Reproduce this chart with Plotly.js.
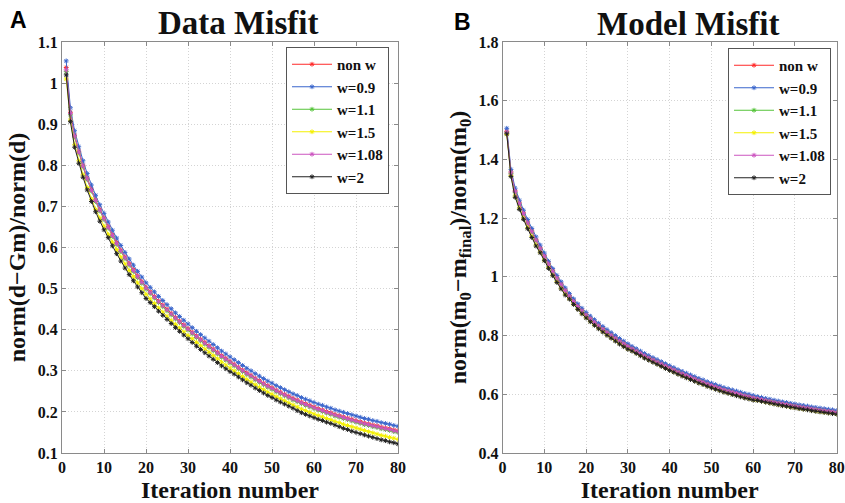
<!DOCTYPE html>
<html>
<head>
<meta charset="utf-8">
<script src="https://cdn.plot.ly/plotly-3.0.1.min.js"></script>
<style>html,body{margin:0;padding:0;background:#fff;}#chart{width:845px;height:503px;}</style>
</head>
<body>
<div id="chart"></div>
<script>
// ---------- data ----------
const iterations = Array.from({length: 80}, (_, i) => i + 1);
const seriesNames = ['non w', 'w=0.9', 'w=1.1', 'w=1.5', 'w=1.08', 'w=2'];
const seriesColors = ['#ff2a2a', '#3a66cc', '#55c43a', '#f4f000', '#cc55c0', '#222222'];

// Panel A: Data Misfit
const dataNonW = [1.038,0.929,0.873,0.834,0.800,0.769,0.741,0.716,0.693,0.672,
0.651,0.631,0.612,0.594,0.577,0.561,0.546,0.531,0.517,0.503,
0.492,0.481,0.470,0.460,0.450,0.440,0.430,0.421,0.412,0.403,
0.394,0.385,0.377,0.369,0.361,0.353,0.345,0.337,0.330,0.323,
0.316,0.309,0.302,0.295,0.289,0.282,0.276,0.270,0.264,0.259,
0.253,0.248,0.243,0.238,0.233,0.229,0.224,0.220,0.216,0.212,
0.208,0.205,0.201,0.198,0.194,0.191,0.188,0.185,0.182,0.179,
0.176,0.173,0.171,0.168,0.166,0.163,0.161,0.159,0.156,0.154];
const dataW09 = [1.054,0.940,0.884,0.845,0.811,0.780,0.752,0.727,0.704,0.683,
0.662,0.642,0.623,0.605,0.588,0.572,0.557,0.542,0.528,0.514,
0.503,0.492,0.481,0.471,0.461,0.451,0.441,0.432,0.423,0.414,
0.405,0.396,0.388,0.380,0.372,0.364,0.356,0.348,0.341,0.334,
0.327,0.320,0.313,0.306,0.300,0.293,0.287,0.281,0.275,0.270,
0.264,0.259,0.254,0.249,0.244,0.240,0.235,0.231,0.227,0.223,
0.219,0.216,0.212,0.209,0.205,0.202,0.199,0.196,0.193,0.190,
0.187,0.184,0.182,0.179,0.177,0.174,0.172,0.170,0.167,0.165];
const dataW11 = [1.028,0.923,0.869,0.830,0.796,0.765,0.737,0.712,0.689,0.668,
0.647,0.627,0.608,0.590,0.573,0.557,0.542,0.527,0.513,0.499,
0.488,0.477,0.466,0.456,0.446,0.436,0.426,0.417,0.408,0.399,
0.390,0.381,0.373,0.365,0.357,0.349,0.341,0.333,0.326,0.319,
0.312,0.305,0.298,0.291,0.285,0.278,0.272,0.266,0.260,0.255,
0.249,0.244,0.239,0.234,0.229,0.225,0.220,0.216,0.212,0.208,
0.204,0.201,0.197,0.194,0.190,0.187,0.184,0.181,0.178,0.175,
0.172,0.169,0.167,0.164,0.162,0.159,0.157,0.155,0.152,0.150];
const dataW15 = [1.010,0.910,0.850,0.811,0.777,0.746,0.718,0.693,0.672,0.652,
0.632,0.613,0.595,0.577,0.560,0.544,0.529,0.514,0.500,0.486,
0.475,0.464,0.453,0.443,0.433,0.423,0.413,0.404,0.395,0.386,
0.378,0.369,0.361,0.353,0.345,0.337,0.329,0.321,0.314,0.307,
0.300,0.293,0.286,0.279,0.273,0.266,0.260,0.254,0.248,0.243,
0.237,0.232,0.227,0.222,0.217,0.212,0.207,0.203,0.199,0.195,
0.191,0.188,0.184,0.181,0.177,0.174,0.170,0.167,0.164,0.161,
0.158,0.155,0.152,0.149,0.146,0.143,0.141,0.138,0.136,0.133];
const dataW108 = [1.032,0.926,0.871,0.832,0.798,0.767,0.739,0.714,0.691,0.670,
0.649,0.629,0.610,0.592,0.575,0.559,0.544,0.529,0.515,0.501,
0.490,0.479,0.468,0.458,0.448,0.438,0.428,0.419,0.410,0.401,
0.392,0.383,0.375,0.367,0.359,0.351,0.343,0.335,0.328,0.321,
0.314,0.307,0.300,0.293,0.287,0.280,0.274,0.268,0.262,0.257,
0.251,0.246,0.241,0.236,0.231,0.227,0.222,0.218,0.214,0.210,
0.206,0.203,0.199,0.196,0.192,0.189,0.186,0.183,0.180,0.177,
0.174,0.171,0.169,0.166,0.164,0.161,0.159,0.157,0.154,0.152];
const dataW2 = [1.020,0.906,0.844,0.805,0.771,0.740,0.712,0.687,0.664,0.643,
0.624,0.604,0.585,0.567,0.550,0.534,0.519,0.504,0.490,0.476,
0.466,0.456,0.445,0.435,0.425,0.415,0.405,0.396,0.387,0.378,
0.369,0.360,0.352,0.344,0.336,0.328,0.320,0.312,0.305,0.298,
0.292,0.285,0.278,0.271,0.265,0.258,0.252,0.246,0.240,0.235,
0.229,0.224,0.219,0.214,0.209,0.203,0.198,0.194,0.190,0.186,
0.182,0.179,0.175,0.172,0.168,0.164,0.160,0.157,0.153,0.150,
0.147,0.144,0.141,0.138,0.135,0.132,0.130,0.127,0.125,0.122];

// Panel B: Model Misfit
const modelNonW = [1.495,1.357,1.293,1.252,1.218,1.186,1.156,1.127,1.099,1.072,
1.046,1.021,0.998,0.976,0.955,0.936,0.918,0.901,0.886,0.872,
0.859,0.847,0.835,0.824,0.813,0.803,0.793,0.783,0.774,0.765,
0.757,0.749,0.741,0.733,0.726,0.719,0.712,0.705,0.698,0.691,
0.685,0.678,0.672,0.666,0.660,0.654,0.648,0.643,0.637,0.632,
0.627,0.622,0.617,0.613,0.609,0.605,0.601,0.597,0.594,0.590,
0.587,0.584,0.581,0.578,0.575,0.572,0.569,0.567,0.564,0.562,
0.559,0.557,0.555,0.552,0.550,0.548,0.546,0.544,0.542,0.540];
const modelW09 = [1.506,1.366,1.302,1.261,1.227,1.195,1.165,1.136,1.108,1.081,
1.053,1.028,1.005,0.983,0.962,0.943,0.925,0.908,0.893,0.879,
0.866,0.854,0.842,0.831,0.820,0.810,0.800,0.790,0.781,0.772,
0.763,0.755,0.747,0.739,0.732,0.725,0.718,0.711,0.704,0.697,
0.691,0.684,0.678,0.672,0.666,0.660,0.654,0.649,0.643,0.638,
0.633,0.628,0.623,0.619,0.615,0.611,0.607,0.603,0.600,0.596,
0.592,0.589,0.586,0.583,0.580,0.577,0.574,0.572,0.569,0.567,
0.564,0.562,0.560,0.557,0.555,0.553,0.551,0.549,0.547,0.545];
const modelW11 = [1.490,1.352,1.288,1.248,1.214,1.182,1.152,1.123,1.095,1.068,
1.042,1.017,0.994,0.972,0.951,0.932,0.914,0.897,0.882,0.868,
0.856,0.844,0.832,0.821,0.810,0.800,0.790,0.780,0.771,0.762,
0.754,0.746,0.738,0.730,0.723,0.716,0.709,0.702,0.695,0.688,
0.682,0.675,0.669,0.663,0.657,0.651,0.645,0.640,0.634,0.629,
0.624,0.619,0.614,0.610,0.606,0.602,0.598,0.594,0.591,0.587,
0.584,0.581,0.578,0.575,0.572,0.569,0.566,0.564,0.561,0.559,
0.556,0.554,0.552,0.549,0.547,0.545,0.543,0.541,0.539,0.537];
const modelW15 = [1.485,1.345,1.275,1.234,1.200,1.168,1.138,1.109,1.085,1.058,
1.032,1.007,0.984,0.962,0.941,0.926,0.908,0.891,0.876,0.862,
0.849,0.837,0.825,0.814,0.803,0.793,0.783,0.773,0.764,0.755,
0.749,0.741,0.733,0.725,0.718,0.711,0.704,0.697,0.690,0.683,
0.677,0.670,0.664,0.658,0.652,0.646,0.640,0.635,0.629,0.624,
0.619,0.614,0.609,0.605,0.601,0.597,0.593,0.589,0.586,0.582,
0.580,0.577,0.574,0.571,0.568,0.565,0.562,0.560,0.557,0.555,
0.552,0.550,0.548,0.545,0.543,0.541,0.539,0.537,0.535,0.533];
const modelW108 = [1.493,1.354,1.291,1.250,1.216,1.184,1.154,1.125,1.097,1.070,
1.044,1.019,0.996,0.974,0.953,0.934,0.916,0.899,0.884,0.870,
0.857,0.845,0.833,0.822,0.811,0.801,0.791,0.781,0.772,0.763,
0.755,0.747,0.739,0.731,0.724,0.717,0.710,0.703,0.696,0.689,
0.683,0.676,0.670,0.664,0.658,0.652,0.646,0.641,0.635,0.630,
0.625,0.620,0.615,0.611,0.607,0.603,0.599,0.595,0.592,0.588,
0.585,0.582,0.579,0.576,0.573,0.570,0.567,0.565,0.562,0.560,
0.557,0.555,0.553,0.550,0.548,0.546,0.544,0.542,0.540,0.538];
const modelW2 = [1.487,1.342,1.271,1.230,1.196,1.164,1.134,1.105,1.082,1.055,
1.029,1.004,0.981,0.959,0.938,0.924,0.906,0.889,0.874,0.860,
0.847,0.835,0.823,0.812,0.801,0.791,0.781,0.771,0.762,0.753,
0.747,0.739,0.731,0.723,0.716,0.709,0.702,0.695,0.688,0.681,
0.675,0.668,0.662,0.656,0.650,0.644,0.638,0.633,0.627,0.622,
0.617,0.612,0.607,0.603,0.599,0.595,0.591,0.587,0.584,0.580,
0.579,0.576,0.573,0.570,0.567,0.564,0.561,0.559,0.556,0.554,
0.551,0.549,0.547,0.544,0.542,0.540,0.538,0.536,0.534,0.532];

const xTicks = [0, 10, 20, 30, 40, 50, 60, 70, 80];

// ---------- build ----------
const dataSeries = [dataNonW, dataW09, dataW11, dataW15, dataW108, dataW2];
const modelSeries = [modelNonW, modelW09, modelW11, modelW15, modelW108, modelW2];

const SERIF = 'Liberation Serif';
const traces = [];
function addPanel(series, xa, ya, legendId) {
  series.forEach((vals, k) => {
    traces.push({
      type: 'scatter', mode: 'lines+markers',
      x: iterations, y: vals, name: seriesNames[k],
      xaxis: xa, yaxis: ya, legend: legendId,
      line: {color: seriesColors[k], width: 1},
      marker: {symbol: 'asterisk-open', size: 4, color: seriesColors[k],
               line: {color: seriesColors[k], width: 1}}
    });
  });
}
addPanel(dataSeries, 'x', 'y', 'legend');
addPanel(modelSeries, 'x2', 'y2', 'legend2');

const W = 845, H = 503;
const tickFont = {family: SERIF, size: 16, color: '#111', weight: 'bold'};
const axisTitleFont = {family: SERIF, size: 24, color: '#111', weight: 'bold'};
function xAxis(domain) {
  return {
    domain: domain, range: [0, 80], tickvals: xTicks, ticktext: xTicks.map(String),
    showgrid: true, gridcolor: '#d4d4d4', griddash: '1px,2px', gridwidth: 1,
    zeroline: false, showline: true, linecolor: '#8a8a8a', linewidth: 1, mirror: 'ticks',
    ticks: 'inside', ticklen: 4, tickcolor: '#8a8a8a', tickfont: tickFont,
    ticklabeloverflow: 'allow',
    title: {text: 'Iteration number', font: {family: SERIF, size: 24, color: '#111', weight: 'bold'}, standoff: 7},
    automargin: false, fixedrange: true
  };
}
function yAxis(domain, range, dtick, anchor, titleText) {
  return {
    domain: domain, range: range, dtick: dtick, tick0: range[0], anchor: anchor,
    showgrid: true, gridcolor: '#d4d4d4', griddash: '1px,2px', gridwidth: 1,
    zeroline: false, showline: true, linecolor: '#8a8a8a', linewidth: 1, mirror: 'ticks',
    ticks: 'inside', ticklen: 4, tickcolor: '#8a8a8a', tickfont: tickFont,
    ticklabeloverflow: 'allow',
    title: {text: titleText, font: axisTitleFont, standoff: 5},
    automargin: false, fixedrange: true
  };
}
const yDom = [50 / H, 461 / H];
const legendBase = {
  bgcolor: '#ffffff', bordercolor: '#555555', borderwidth: 1,
  font: {family: SERIF, size: 15, color: '#111', weight: 'bold'},
  xanchor: 'right', yanchor: 'top', itemwidth: 40, tracegroupgap: 0
};
const layout = {
  width: W, height: H,
  margin: {l: 0, r: 0, t: 0, b: 0},
  paper_bgcolor: '#ffffff', plot_bgcolor: '#ffffff',
  showlegend: true,
  xaxis: Object.assign(xAxis([62 / W, 398 / W]), {anchor: 'y'}),
  yaxis: yAxis(yDom, [0.1, 1.1], 0.1, 'x', 'norm(d\u2212Gm)/norm(d)'),
  xaxis2: Object.assign(xAxis([502.6 / W, 836.7 / W]), {anchor: 'y2'}),
  yaxis2: yAxis(yDom, [0.4, 1.8], 0.2, 'x2', 'norm(m<sub>0</sub>\u2212m<sub>final</sub>)/norm(m<sub>0</sub>)'),
  legend: Object.assign({}, legendBase, {x: 389 / W, y: 1 - 47 / H}),
  legend2: Object.assign({}, legendBase, {x: 831 / W, y: 1 - 48 / H}),
  annotations: [
    {text: 'Data Misfit', xref: 'paper', yref: 'paper', x: 238 / W, y: 1 - 23 / H,
     xanchor: 'center', yanchor: 'middle', showarrow: false,
     font: {family: SERIF, size: 33, color: '#111', weight: 'bold'}},
    {text: 'Model Misfit', xref: 'paper', yref: 'paper', x: 688 / W, y: 1 - 24 / H,
     xanchor: 'center', yanchor: 'middle', showarrow: false,
     font: {family: SERIF, size: 33, color: '#111', weight: 'bold'}},
    {text: 'A', xref: 'paper', yref: 'paper', x: 8 / W, y: 1 - 20 / H,
     xanchor: 'left', yanchor: 'middle', showarrow: false,
     font: {family: 'Liberation Sans', size: 23, color: '#000', weight: 'bold'}},
    {text: 'B', xref: 'paper', yref: 'paper', x: 452 / W, y: 1 - 22 / H,
     xanchor: 'left', yanchor: 'middle', showarrow: false,
     font: {family: 'Liberation Sans', size: 23, color: '#000', weight: 'bold'}}
  ]
};
Plotly.newPlot('chart', traces, layout, {staticPlot: true, displayModeBar: false});
</script>
</body>
</html>
